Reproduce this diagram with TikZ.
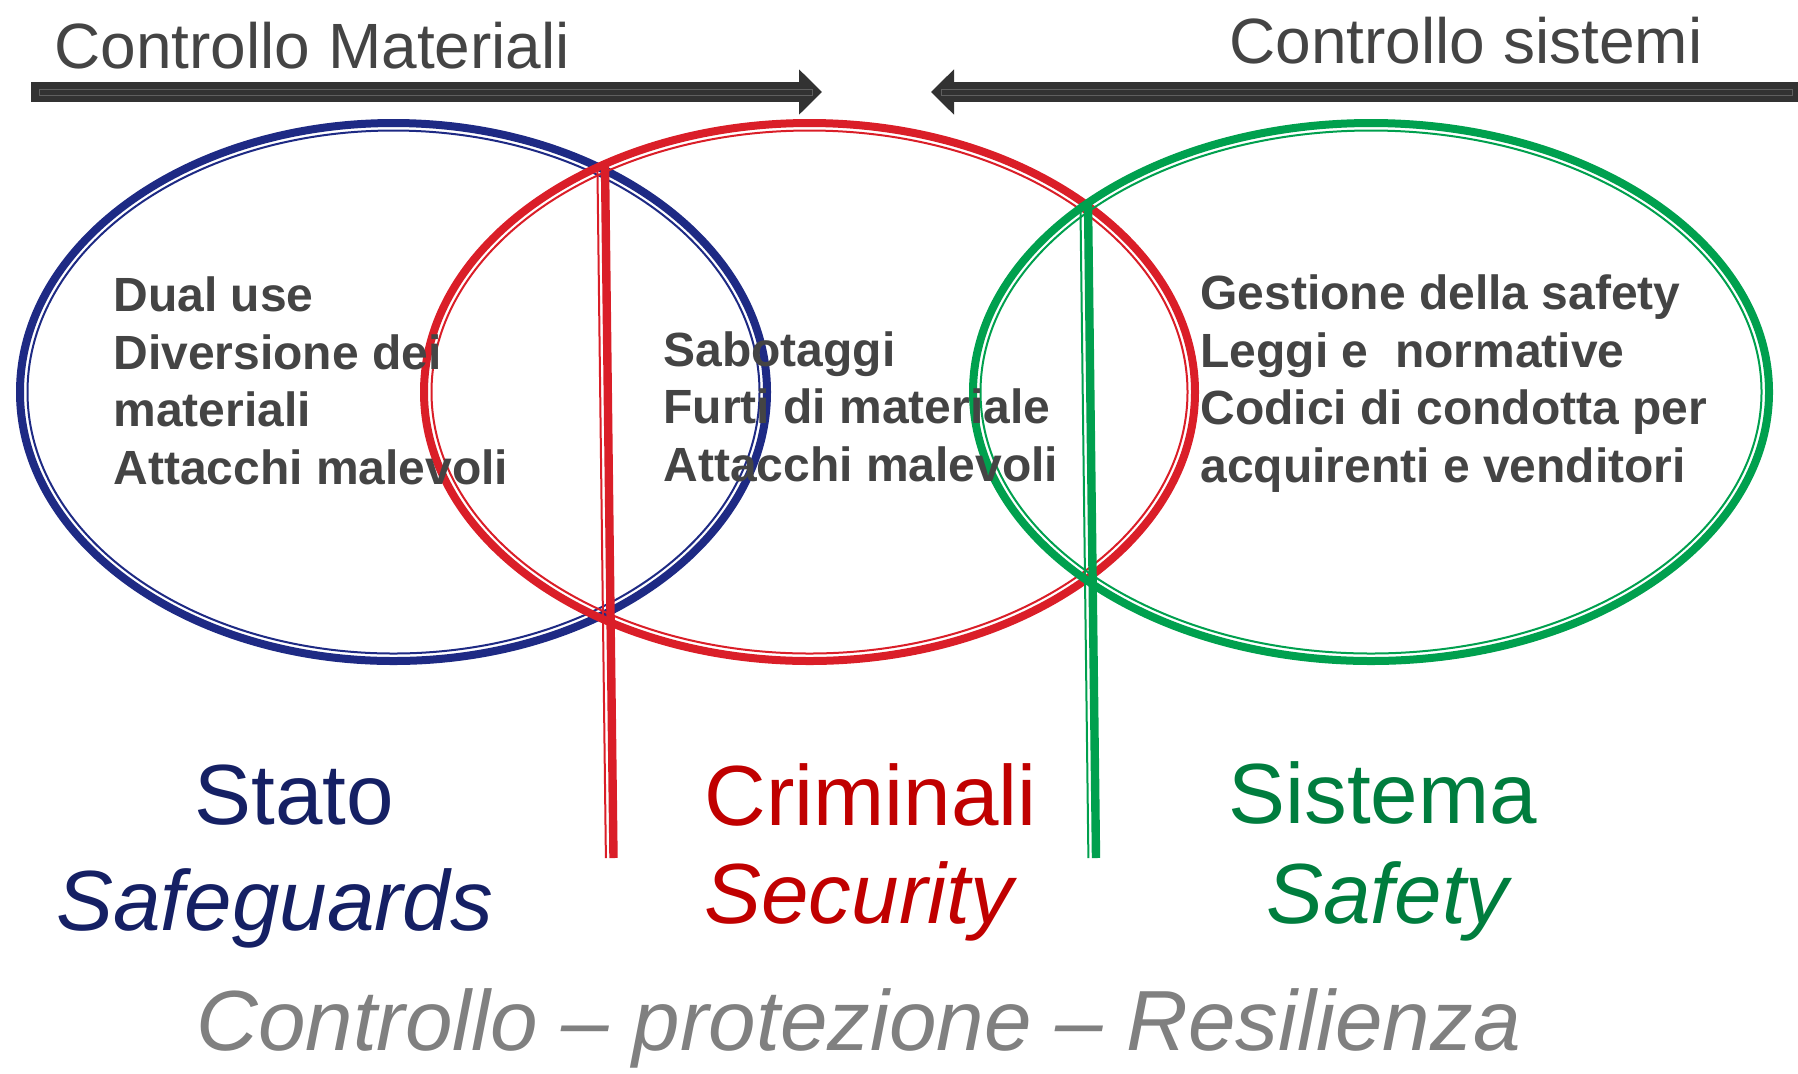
\documentclass[tikz,border=0pt]{standalone}
\usepackage{fontspec}
\setmainfont{Liberation Sans}
\usepackage{tikz}
\usetikzlibrary{arrows.meta}
\usetikzlibrary{calc}

\definecolor{statoblue}{RGB}{30,42,132}
\definecolor{statotext}{RGB}{21,32,100}
\definecolor{crimred}{RGB}{218,30,40}
\definecolor{crimtext}{RGB}{192,0,0}
\definecolor{safegreen}{RGB}{0,160,78}
\definecolor{safetext}{RGB}{0,125,62}
\definecolor{textgray}{RGB}{68,68,68}
\definecolor{mottogray}{RGB}{128,128,128}
\definecolor{arrowgray}{RGB}{50,50,50}
\definecolor{stripegray}{RGB}{95,95,95}

\begin{document}
\begin{tikzpicture}[x=0.5pt,y=-0.5pt,
  every node/.style={inner sep=0pt, anchor=base west},
  ring/.style={line width=4pt},
  ringin/.style={line width=1pt},
  bar/.style={line width=4.2pt},
  barin/.style={line width=1pt},
  bigarrow/.style={arrowgray, line width=10pt, -{Triangle[length=11.5pt,width=22pt]}},
  stripe/.style={stripegray, line width=0.5pt},
  head/.style={font=\fontsize{32}{38}\selectfont, text=textgray},
  list/.style={font=\fontsize{24}{28.7}\selectfont\bfseries, text=textgray, align=left},
  who/.style={font=\fontsize{42.7}{50}\selectfont},
  what/.style={font=\fontsize{42.7}{50}\selectfont\itshape}]

  \useasboundingbox (0,0) rectangle (1798,1073);

  % arrows on top
  \coordinate (mat-start) at (31,92);
  \coordinate (mat-end) at (822,92);
  \coordinate (sis-start) at (1800,92);
  \coordinate (sis-end) at (931,92);

  \draw[bigarrow] (mat-start) -- (mat-end);
  \draw[stripe] ($(mat-start)+(8,-3)$) rectangle ($(mat-end)+(-10,3)$);
  \draw[bigarrow] (sis-start) -- (sis-end);
  \draw[stripe] ($(sis-start)+(-8,-3)$) rectangle ($(sis-end)+(10,3)$);

  \node[head] (mat) at (54,68) {Controllo Materiali};
  \node[head] (sis) at (1229,63) {Controllo sistemi};

  % the three rings
  \draw[statoblue, ring] (393.5,392) ellipse [x radius=373.5, y radius=269];
  \draw[statoblue, ringin] (393.5,392) ellipse [x radius=366, y radius=261.5];
  \draw[crimred, ring] (809.5,392) ellipse [x radius=385.5, y radius=269];
  \draw[crimred, ringin] (809.5,392) ellipse [x radius=378, y radius=261.5];
  \draw[safegreen, ring] (1371,392) ellipse [x radius=398, y radius=269];
  \draw[safegreen, ringin] (1371,392) ellipse [x radius=390.5, y radius=261.5];

  % dividers
  \coordinate (red-top) at (605,166);
  \coordinate (red-bot) at (613.5,858);
  \coordinate (green-top) at (1088,203);
  \coordinate (green-bot) at (1096,858);

  \draw[crimred, bar] (red-top) -- (red-bot);
  \draw[crimred, barin] ([xshift=-3.8pt]red-top) -- ([xshift=-3.8pt]red-bot);
  \draw[safegreen, bar] (green-top) -- (green-bot);
  \draw[safegreen, barin] ([xshift=-3.8pt]green-top) -- ([xshift=-3.8pt]green-bot);

  % contents (base = last line)
  \node[list] (stato-list) at (113,484) {Dual use\\Diversione dei\\materiali\\Attacchi malevoli};
  \node[list] (crim-list) at (663,481) {Sabotaggi\\Furti di materiale\\Attacchi malevoli};
  \node[list] (safe-list) at (1200,482) {Gestione della safety\\Leggi e\ \ normative\\Codici di condotta per\\acquirenti e venditori};

  \node[who, text=statotext] (stato) at (194,824) {Stato};
  \node[what, text=statotext] (safeguards) at (56,930) {Safeguards};
  \node[who, text=crimtext] (criminali) at (704,825) {Criminali};
  \node[what, text=crimtext] (security) at (704,923) {Security};
  \node[who, text=safetext] (sistema) at (1228,823) {Sistema};
  \node[what, text=safetext] (safety) at (1266,923) {Safety};

  \node[what, text=mottogray] (motto) at (196,1050) {Controllo – protezione – Resilienza};

\end{tikzpicture}
\end{document}
